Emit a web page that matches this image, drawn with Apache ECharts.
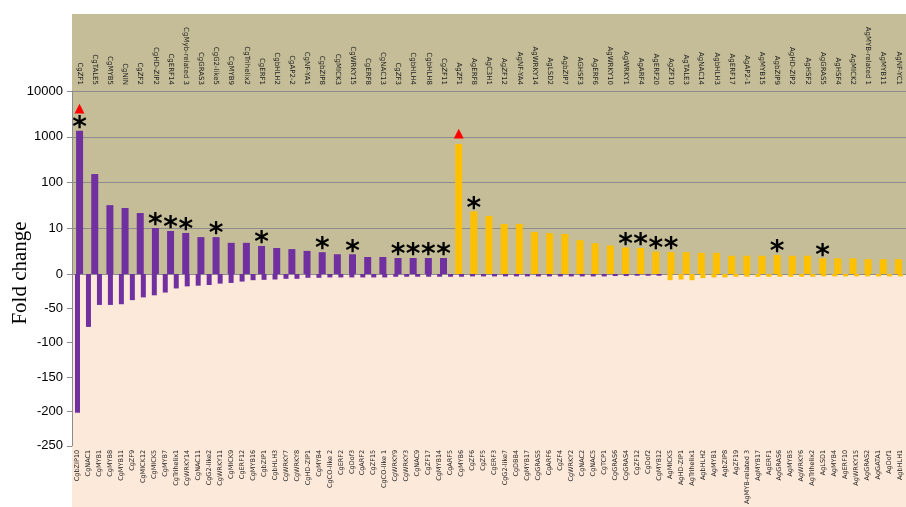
<!DOCTYPE html>
<html>
<head>
<meta charset="utf-8">
<script src="https://cdn.jsdelivr.net/npm/echarts@6/dist/echarts.min.js"></script>
<style>
  html, body { margin: 0; padding: 0; background: #ffffff; }
  #container { width: 906px; height: 507px; }
</style>
</head>
<body>
<div id="container"></div>
<script>
// 上调基因（对数坐标）
const upCats = ['CgZF1', 'CgTALE5', 'CgMYB5', 'CgNIN', 'CgZF2', 'CgHD-ZIP2', 'CgERF14', 'CgMyb-related 3', 'CgGRAS3', 'CgG2-like5',
  'CgMYB9', 'CgTrihelix2', 'CgERF1', 'CgbHLH2', 'CgAP2-2', 'CgNF-YA1', 'CgbZIP8', 'CgMICK3', 'CgWRKY15', 'CgERF8',
  'CgNAC13', 'CgZF3', 'CgbHLH4', 'CgbHLH8', 'CgZF11',
  'AgZF1', 'AgERF8', 'AgC3H1', 'AgZF12', 'AgNF-YA4', 'AgWRKY14', 'AgLSD2', 'AgbZIP7', 'AGHSF3', 'AgERF6',
  'AgWRKY10', 'AgWRKY1', 'AgARF4', 'AgERF20', 'AgZF10', 'AgTALE3', 'AgNAC14', 'AgbHLH3', 'AgERF17', 'AgAP2-1',
  'AgMYB15', 'AgbZIP9', 'AgHD-ZIP2', 'AgHSF2', 'AgGRAS5', 'AgHSF4', 'AgMICK2', 'AgMYB-related 1', 'AgMYB11', 'AgNF-YC1']
const upVals = [1350, 153, 32, 27.7, 21.5, 10.1, 8.7, 7.9, 6.4, 6.4,
  4.8, 4.8, 4.1, 3.7, 3.5, 3.2, 3.0, 2.7, 2.7, 2.35,
  2.35, 2.24, 2.24, 2.24, 2.24,
  693, 23.5, 18.5, 12.4, 12.4, 8.3, 7.8, 7.5, 5.5, 4.7,
  4.2, 3.8, 3.7, 3.1, 3.0, 3.0, 2.9, 2.9, 2.5, 2.5,
  2.5, 2.6, 2.5, 2.5, 2.2, 2.2, 2.2, 2.1, 2.1, 2.1]
// 显著标记
const starred = ['CgZF1', 'CgHD-ZIP2', 'CgERF14', 'CgMyb-related 3', 'CgG2-like5', 'CgERF1', 'CgbZIP8', 'CgWRKY15',
  'CgZF3', 'CgbHLH4', 'CgbHLH8', 'CgZF11', 'AgERF8', 'AgWRKY1', 'AgARF4', 'AgERF20', 'AgZF10', 'AgbZIP9', 'AgGRAS5']
const arrowed = ['CgZF1', 'AgZF1']

// 下调基因（线性坐标）
const downCats = ['CgbZIP10', 'CgNAC1', 'CgMYB1', 'CgMYB8', 'CgMYB11', 'CgZF9', 'CgMICK12', 'CgMICK5', 'CgMYB7', 'CgTrihelix1',
  'CgWRKY14', 'CgNAC11', 'CgG2-like2', 'CgWRKY11', 'CgMICK9', 'CgERF12', 'CgMYB16', 'CgbZIP1', 'CgbHLH3', 'CgWRKY7',
  'CgWRKY8', 'CgHD-ZIP1', 'CgMYB4', 'CgCO-like 2', 'CgERF2', 'CgDof3', 'CgARF2', 'CgZF15', 'CgCO-like 1', 'CgWRKY9',
  'CgWRKY3', 'CgNAC9', 'CgZF17', 'CgMYB14', 'CgARF5', 'CgMYB6', 'CgZF6', 'CgZF5', 'CgERF3', 'CgG2-like7',
  'CgDBB4', 'CgMYB17', 'CgGRAS5', 'CgARF6', 'CgZF4', 'CgWRKY2', 'CgNAC2', 'CgNAC5', 'CgTCP1', 'CgGRAS6',
  'CgGRAS4', 'CgZF12', 'CgDof2', 'CgMYB12', 'AgMICK5', 'AgHD-ZIP1', 'AgTrihelix1', 'AgbHLH2', 'AgMYB1', 'AgbZIP8',
  'AgZF19', 'AgMYB-related 3', 'AgMYB17', 'AgERF1', 'AgGRAS6', 'AgMYB5', 'AgWRKY6', 'AgTrihelix2', 'AgLSD1', 'AgMYB4',
  'AgERF10', 'AgWRKY15', 'AgGRAS2', 'AgGATA1', 'AgDof1', 'AgbHLH1']
const downVals = [-202, -77, -45, -45, -44, -38, -34, -31, -27, -21,
  -18, -17, -16, -14, -13, -11, -9, -8.5, -8, -7,
  -7, -5.5, -5.5, -5, -5, -5, -5, -5, -5, -4,
  -4, -4, -4, -4, -4, -4, -3.5, -3.5, -3.5, -3.5,
  -3.5, -3.5, -3.5, -3.5, -3.5, -3.5, -3.5, -3.5, -3.5, -3,
  -3, -2.5, -2.5, -2.5, -9, -8, -9, -6, -5, -5,
  -4, -4, -4, -4, -4, -4, -4, -4, -3.5, -3.5,
  -3.5, -3.5, -3.5, -3.5, -3.5, -3.5]

const purple = '#7030a0'
const orange = '#ffc000'
const barColor = (p) => (p.name.indexOf('Cg') === 0 ? purple : orange)

const dom = document.getElementById('container')
const myChart = echarts.init(dom)

const option = {
  animation: false,
  graphic: [
    { type: 'rect', z: -100, shape: { x: 72, y: 14, width: 834, height: 260 }, style: { fill: '#c4bd97' } },
    { type: 'rect', z: -100, shape: { x: 72, y: 274, width: 834, height: 233 }, style: { fill: '#fde9d9' } },
    {
      type: 'text', x: 20, y: 273, rotation: Math.PI / 2,
      style: { text: 'Fold change', font: '21px "Liberation Serif"', fill: '#000', textAlign: 'center', textVerticalAlign: 'middle' }
    }
  ],
  grid: [
    { left: 72, top: 91, width: 834, height: 183 },
    { left: 72, top: 274, width: 834, height: 176 }
  ],
  xAxis: [
    {
      gridIndex: 0,
      type: 'category',
      position: 'top',
      data: upCats,
      axisLine: { show: false },
      axisTick: { show: false },
      axisLabel: { interval: 0, rotate: 90, margin: 6, fontSize: 7, fontFamily: 'DejaVu Sans', color: '#222' }
    },
    {
      gridIndex: 1,
      type: 'category',
      position: 'bottom',
      data: downCats,
      axisLine: { show: false },
      axisTick: { show: false },
      axisLabel: { interval: 0, rotate: 90, margin: 4, fontSize: 6.5, fontFamily: 'DejaVu Sans', color: '#222' }
    }
  ],
  yAxis: [
    {
      gridIndex: 0,
      type: 'log',
      logBase: 10,
      min: 1,
      max: 10000,
      axisLine: { show: true, lineStyle: { color: '#8c8c8c' } },
      axisTick: { show: true, length: 5, lineStyle: { color: '#8c8c8c' } },
      splitLine: { show: true, lineStyle: { color: '#8c8c8c', width: 1 } },
      axisLabel: {
        fontSize: 13, fontFamily: 'Liberation Sans', color: '#000', margin: 9,
        formatter: (v) => (v === 1 ? '0' : String(v))
      }
    },
    {
      gridIndex: 1,
      type: 'value',
      min: -250,
      max: 0,
      interval: 50,
      axisLine: { show: true, lineStyle: { color: '#8c8c8c' } },
      axisTick: { show: true, length: 5, lineStyle: { color: '#8c8c8c' } },
      splitLine: { show: false },
      axisLabel: {
        fontSize: 13, fontFamily: 'Liberation Sans', color: '#000', margin: 9,
        formatter: (v) => (v === 0 ? '' : String(v))
      }
    }
  ],
  series: [
    {
      type: 'bar',
      xAxisIndex: 0,
      yAxisIndex: 0,
      data: upVals,
      barWidth: 7,
      itemStyle: { color: barColor },
      label: {
        show: true,
        position: 'top',
        offset: [0, 16],
        formatter: (p) => {
          const parts = []
          if (arrowed.indexOf(p.name) >= 0) parts.push('{tri|▲}')
          if (starred.indexOf(p.name) >= 0) parts.push('{star|*}')
          else if (parts.length) parts.push('{gap| }')
          return parts.join('\n')
        },
        rich: {
          tri: { color: '#ff0000', fontSize: 13, fontFamily: 'DejaVu Sans', lineHeight: 14 },
          star: { color: '#000', fontSize: 28, fontWeight: 'bold', fontFamily: 'DejaVu Sans', lineHeight: 26 },
          gap: { fontSize: 8, lineHeight: 14 }
        }
      }
    },
    {
      type: 'bar',
      xAxisIndex: 1,
      yAxisIndex: 1,
      data: downVals,
      barWidth: 5,
      itemStyle: { color: barColor }
    }
  ]
}

myChart.setOption(option)
window.addEventListener('resize', () => {
  myChart.resize()
})
</script>
</body>
</html>
